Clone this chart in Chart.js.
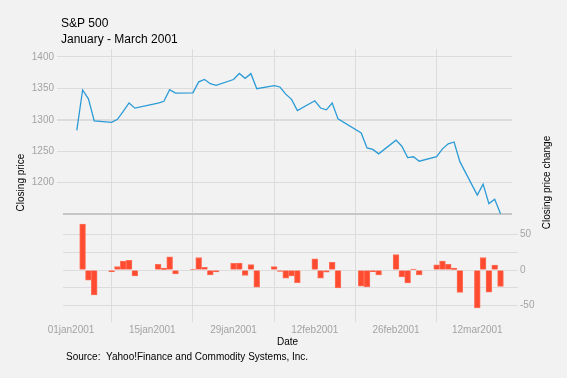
<!DOCTYPE html>
<html><head><meta charset="utf-8">
<script src="https://cdn.jsdelivr.net/npm/chart.js@4/dist/chart.umd.min.js"></script>
<style>html,body{margin:0;padding:0;background:#f2f2f2;}canvas{display:block}</style>
</head><body>
<canvas id="c" width="567" height="378"></canvas>
<script>
const dates = ['2001-01-02','2001-01-03','2001-01-04','2001-01-05','2001-01-08','2001-01-09','2001-01-10','2001-01-11','2001-01-12',
  '2001-01-16','2001-01-17','2001-01-18','2001-01-19','2001-01-22','2001-01-23','2001-01-24','2001-01-25','2001-01-26',
  '2001-01-29','2001-01-30','2001-01-31','2001-02-01','2001-02-02','2001-02-05','2001-02-06','2001-02-07','2001-02-08','2001-02-09',
  '2001-02-12','2001-02-13','2001-02-14','2001-02-15','2001-02-16','2001-02-20','2001-02-21','2001-02-22','2001-02-23',
  '2001-02-26','2001-02-27','2001-02-28','2001-03-01','2001-03-02','2001-03-05','2001-03-06','2001-03-07','2001-03-08','2001-03-09',
  '2001-03-12','2001-03-13','2001-03-14','2001-03-15','2001-03-16'];
const closingPrice = [1283.27,1347.56,1333.34,1298.35,1295.86,1300.80,1313.27,1326.82,1318.55,
  1326.65,1329.47,1347.97,1342.54,1342.90,1360.40,1364.30,1357.51,1354.95,
  1364.17,1373.73,1366.01,1373.47,1349.47,1354.31,1352.26,1340.89,1332.53,1314.76,
  1330.31,1318.80,1315.92,1326.61,1301.53,1278.94,1255.27,1252.82,1245.86,
  1267.65,1257.94,1239.94,1241.23,1234.18,1241.41,1253.80,1261.89,1264.74,1233.42,
  1180.16,1197.66,1166.71,1173.56,1150.53];
const priceChange = [null,64.29,-14.22,-34.99,-2.49,4.94,12.47,13.55,-8.27,
  8.10,2.82,18.50,-5.43,0.36,17.50,3.90,-6.79,-2.56,
  9.22,9.56,-7.72,7.46,-24.00,4.84,-2.05,-11.37,-8.36,-17.77,
  15.55,-11.51,-2.88,10.69,-25.08,-22.59,-23.67,-2.45,-6.96,
  21.79,-9.71,-18.00,1.29,-7.05,7.23,12.39,8.09,2.85,-31.32,
  -53.26,17.50,-30.95,6.85,-23.03];
const xTickDates = ['2001-01-01','2001-01-15','2001-01-29','2001-02-12','2001-02-26','2001-03-12'];
const xTickLabels = ['01jan2001','15jan2001','29jan2001','12feb2001','26feb2001','12mar2001'];
const priceTicks = [1200,1250,1300,1350,1400];
const priceRefLine = 1150;
const changeTicks = [-50,-25,0,25,50];
const changeLabelled = [-50,0,50];

const FONT = "'Liberation Sans', Arial, sans-serif";
const GRAY = '#a3a3a3';
const GRID = '#dcdcdc';
const day0 = Date.UTC(2001,0,1);
function dayIndex(s){ const p=s.split('-').map(Number); return (Date.UTC(p[0],p[1]-1,p[2])-day0)/86400000; }
const xTickVals = xTickDates.map(dayIndex);

const textPlugin = {
  id:'texts',
  afterDraw(chart){
    const ctx = chart.ctx;
    ctx.save();
    ctx.fillStyle = '#000';
    ctx.textBaseline = 'alphabetic';
    ctx.textAlign = 'left';
    ctx.font = '12px ' + FONT;
    ctx.fillText('S&P 500', 61, 27);
    ctx.fillText('January - March 2001', 61, 43);
    ctx.font = '10px ' + FONT;
    ctx.fillText('Source:  Yahoo!Finance and Commodity Systems, Inc.', 66, 360);
    ctx.translate(547, 182.5);
    ctx.rotate(-Math.PI/2);
    ctx.textAlign = 'center';
    ctx.textBaseline = 'middle';
    ctx.fillText('Closing price change', 0, 0);
    ctx.restore();
  }
};

new Chart(document.getElementById('c'), {
  type: 'line',
  data: {
    datasets: [
      { type:'line', label:'Closing price', yAxisID:'y',
        data: dates.map((d,i)=>({x:dayIndex(d), y:closingPrice[i]})),
        borderColor:'#2b9bd6', borderWidth:1.3, pointRadius:0, tension:0, fill:false, order:1 },
      { type:'bar', label:'Closing price change', yAxisID:'y2',
        data: dates.map((d,i)=>({x:dayIndex(d), y:priceChange[i]})),
        backgroundColor:'#ff4b30', borderColor:'#ff7058', borderWidth:1,
        barPercentage:1, categoryPercentage:1, order:2 }
    ]
  },
  options: {
    responsive:false, animation:false, devicePixelRatio:1,
    layout:{ padding:{ top:49, left:0, right:0, bottom:0 } },
    plugins:{ legend:{display:false}, tooltip:{enabled:false} },
    scales:{
      x:{ type:'linear', min:-1.38, max:75.98, offset:false,
        afterFit:s=>{ s.height = 62; },
        afterBuildTicks:s=>{ s.ticks = xTickVals.map(v=>({value:v})); },
        ticks:{ autoSkip:false, maxRotation:0, padding:2, color:GRAY, font:{family:FONT,size:10},
          callback:v=>{ const i = xTickVals.indexOf(v); return i>=0 ? xTickLabels[i] : ''; } },
        grid:{ color:GRID, lineWidth:1, tickLength:6, drawTicks:true },
        border:{ display:false },
        title:{ display:true, text:'Date', color:'#000', font:{family:FONT,size:10}, padding:{top:0,bottom:30} }
      },
      y:{ type:'linear', position:'left', min:987.8, max:1412.7,
        afterFit:s=>{ s.width = 63; },
        afterBuildTicks:s=>{ s.ticks = [priceRefLine, ...priceTicks].map(v=>({value:v})); },
        ticks:{ padding:3, color:GRAY, font:{family:FONT,size:10},
          callback:v=> v===priceRefLine ? '' : String(v) },
        grid:{
          color:c=> (c.tick && c.tick.value===priceRefLine) ? '#c6c6c6' : GRID,
          lineWidth:c=> (c.tick && (c.tick.value===priceRefLine || c.tick.value===1300)) ? 2 : 1,
          tickColor:c=> (c.tick && c.tick.value===priceRefLine) ? 'rgba(0,0,0,0)' : GRID,
          tickLength:6 },
        border:{ display:false },
        title:{ display:true, text:'Closing price', color:'#000', font:{family:FONT,size:10}, padding:{top:15,bottom:0} }
      },
      y2:{ type:'linear', position:'right', min:-64.5, max:310,
        afterFit:s=>{ s.width = 55; },
        afterBuildTicks:s=>{ s.ticks = changeTicks.map(v=>({value:v})); },
        ticks:{ padding:2, color:GRAY, font:{family:FONT,size:10},
          callback:v=> changeLabelled.includes(v) ? String(v) : '' },
        grid:{ color:GRID, lineWidth:1, tickLength:6, drawOnChartArea:true },
        border:{ display:false }
      }
    }
  },
  plugins:[textPlugin]
});
</script>
</body></html>
